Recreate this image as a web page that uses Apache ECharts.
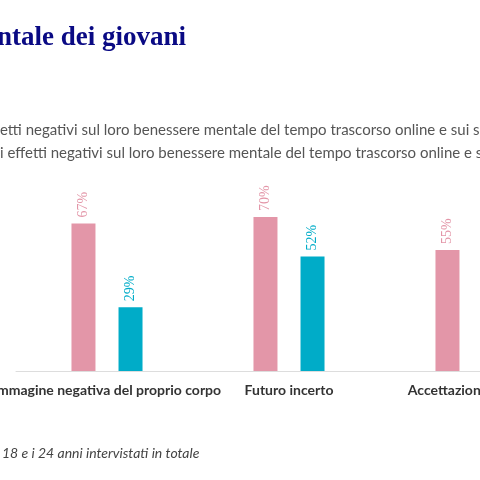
<!DOCTYPE html>
<html>
<head>
<meta charset="utf-8">
<script src="https://cdn.jsdelivr.net/npm/echarts@6/dist/echarts.min.js"></script>
<style>
html,body{margin:0;padding:0;width:480px;height:480px;overflow:hidden;background:#fff;position:relative}
#main{position:absolute;left:-200px;top:0;width:900px;height:480px}
</style>
</head>
<body>
<div id="main"></div>
<script>
// dati
var categorie = ["Immagine negativa del proprio corpo", "Futuro incerto", "Accettazione sociale"];
var ragazze = [67, 70, 55];
var ragazzi = [29, 52, 38];
var OX = 200; // spostamento del contenitore

var rosa = "#e396a8", blu = "#00acc8";
var sans = "Lato, 'Open Sans', sans-serif";
var serif = "'Liberation Serif', 'DejaVu Serif', serif";

var chart = echarts.init(document.getElementById('main'));

function etichetta(col) {
    return {
        show: true, position: 'top', rotate: 90, align: 'left', verticalAlign: 'middle',
        distance: 6, formatter: '{c}%', color: col, fontFamily: serif, fontSize: 14
    };
}

var option = {
    backgroundColor: '#fff',
    animation: false,
    grid: { left: 216, width: 546, top: 151, height: 220 },
    xAxis: {
        type: 'category', data: categorie,
        axisLine: { lineStyle: { color: '#dddddd' } },
        axisTick: { show: false },
        axisLabel: { color: '#333', fontFamily: sans, fontWeight: 'bold', fontSize: 14, margin: 12, interval: 0 }
    },
    yAxis: { type: 'value', min: 0, max: 100, show: false },
    series: [
        { name: 'Ragazze', type: 'bar', data: ragazze, barWidth: 24, barGap: '96%', itemStyle: { color: rosa }, label: etichetta(rosa) },
        { name: 'Ragazzi', type: 'bar', data: ragazzi, barWidth: 24, itemStyle: { color: blu }, label: etichetta(blu) }
    ],
    graphic: [
        { type: 'text', left: null, x: OX + 186, y: 38, style: { text: 'Social media e salute mentale dei giovani', align: 'right', verticalAlign: 'middle', fill: '#0a0a84', font: 'bold 27px ' + serif } },
        { type: 'text', x: OX, y: 130, style: { text: 'Ragazze che riportano eff', align: 'right', verticalAlign: 'middle', fill: '#555', font: '15px ' + sans } },
        { type: 'text', x: OX, y: 130, style: { text: 'etti negativi sul loro benessere mentale del tempo trascorso online e sui social media', align: 'left', verticalAlign: 'middle', fill: '#555', font: '15px ' + sans } },
        { type: 'text', x: OX, y: 153, style: { text: 'Ragazzi che riportano gl', align: 'right', verticalAlign: 'middle', fill: '#555', font: '15px ' + sans } },
        { type: 'text', x: OX, y: 153, style: { text: 'i effetti negativi sul loro benessere mentale del tempo trascorso online e sui social media', align: 'left', verticalAlign: 'middle', fill: '#555', font: '15px ' + sans } },
        { type: 'text', x: OX + 2, y: 453, style: { text: 'Base: 1.000 ragazzi tra i ', align: 'right', verticalAlign: 'middle', fill: '#444', font: 'italic 14px ' + sans } },
        { type: 'text', x: OX + 2, y: 453, style: { text: '18 e i 24 anni intervistati in totale', align: 'left', verticalAlign: 'middle', fill: '#444', font: 'italic 14px ' + sans } }
    ]
};
chart.setOption(option);
</script>
</body>
</html>
